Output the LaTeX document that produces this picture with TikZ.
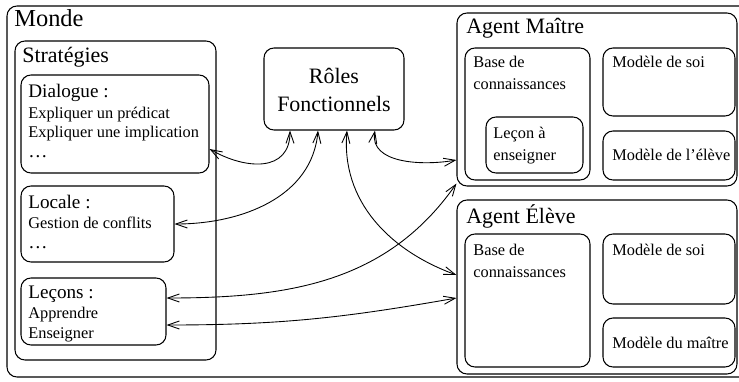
\documentclass[tikz,border=0pt]{standalone}
\usepackage{fontspec}
\setmainfont{Liberation Serif}
\usetikzlibrary{arrows.meta}

\tikzset{
  box/.style={draw, rounded corners=0.2cm, line width=0.6pt, inner sep=0pt},
  txt/.style={anchor=base west, inner sep=0pt, font=\fontsize{9.3}{11}\selectfont},
  sub/.style={anchor=base west, inner sep=0pt, font=\fontsize{10.9}{13}\selectfont},
  ttl/.style={anchor=base west, inner sep=0pt, font=\fontsize{12.5}{15}\selectfont},
  link/.style={{Straight Barb[length=2.3mm,width=1.6mm]}-{Straight Barb[length=2.3mm,width=1.6mm]}, line width=0.5pt},
}

\begin{document}
\begin{tikzpicture}
        \useasboundingbox (0,0) rectangle (14.78,-7.62);

        % boxes
        \node[box, minimum width=15.06cm, minimum height=7.42cm] at (7.67,-3.83) (monde) {};
        \node[box, minimum width=4.02cm, minimum height=6.38cm] at (2.31,-4.01) (strat) {};
        \node[box, minimum width=3.76cm, minimum height=1.96cm] at (2.30,-2.48) (dial) {};
        \node[box, minimum width=3.06cm, minimum height=1.52cm] at (1.95,-4.48) (loc) {};
        \node[box, minimum width=2.90cm, minimum height=1.34cm] at (1.87,-6.23) (lecons) {};
        \node[box, minimum width=2.80cm, minimum height=1.64cm] at (6.68,-1.78) (roles) {};
        \node[box, minimum width=5.60cm, minimum height=3.46cm] at (11.94,-1.99) (maitre) {};
        \node[box, minimum width=2.50cm, minimum height=2.64cm] at (10.55,-2.28) (basem) {};
        \node[box, minimum width=1.94cm, minimum height=1.12cm] at (10.69,-2.90) (lecon) {};
        \node[box, minimum width=2.64cm, minimum height=1.36cm] at (13.38,-1.64) (soim) {};
        \node[box, minimum width=2.64cm, minimum height=0.98cm] at (13.38,-3.11) (modeleve) {};
        \node[box, minimum width=5.60cm, minimum height=3.48cm] at (11.94,-5.74) (eleve) {};
        \node[box, minimum width=2.50cm, minimum height=2.66cm] at (10.55,-6.01) (basee) {};
        \node[box, minimum width=2.64cm, minimum height=1.40cm] at (13.38,-5.38) (soie) {};
        \node[box, minimum width=2.64cm, minimum height=0.98cm] at (13.38,-6.85) (modmaitre) {};

        % texts
        \node[ttl, font=\fontsize{13.9}{16}\selectfont] at (0.28,-0.54) (mondeT) {Monde};
        \node[ttl] at (0.44,-1.24) (stratT) {Stratégies};
        \node[sub] at (0.56,-1.94) (dialT) {Dialogue :};
        \node[txt] at (0.56,-2.36) (dial1) {Expliquer un prédicat};
        \node[txt] at (0.56,-2.74) (dial2) {Expliquer une implication};
        \node[sub] at (0.56,-3.14) (dial3) {\ldots};
        \node[sub] at (0.56,-4.16) (locT) {Locale :};
        \node[txt] at (0.56,-4.56) (loc1) {Gestion de conflits};
        \node[sub] at (0.56,-4.96) (loc2) {\ldots};
        \node[sub] at (0.56,-5.96) (leconsT) {Leçons :};
        \node[txt] at (0.56,-6.36) (lecons1) {Apprendre};
        \node[txt] at (0.56,-6.76) (lecons2) {Enseigner};
        \node[ttl, anchor=base] at (6.68,-1.66) (roles1) {Rôles};
        \node[ttl, anchor=base] at (6.68,-2.22) (roles2) {Fonctionnels};
        \node[ttl] at (9.32,-0.66) (maitreT) {Agent Maître};
        \node[txt] at (9.46,-1.34) (basem1) {Base de};
        \node[txt] at (9.46,-1.78) (basem2) {connaissances};
        \node[txt] at (9.86,-2.76) (lecon1) {Leçon à};
        \node[txt] at (9.86,-3.20) (lecon2) {enseigner};
        \node[txt] at (12.24,-1.34) (soimT) {Modèle de soi};
        \node[txt] at (12.24,-3.20) (modeleveT) {Modèle de l’élève};
        \node[ttl] at (9.32,-4.46) (eleveT) {Agent Élève};
        \node[txt] at (9.46,-5.10) (basee1) {Base de};
        \node[txt] at (9.46,-5.54) (basee2) {connaissances};
        \node[txt] at (12.24,-5.10) (soieT) {Modèle de soi};
        \node[txt] at (12.24,-6.96) (modmaitreT) {Modèle du maître};

        % links
        \draw[link] ([yshift=-0.5cm]dial.east) to[out=-30,in=-90,looseness=1.3] ([xshift=-0.88cm]roles.south);
        \draw[link] (loc.east) to[out=0,in=-95] ([xshift=-0.32cm]roles.south);
        \draw[link] ([xshift=0.26cm]roles.south) to[out=-95,in=160] ([yshift=0.24cm]eleve.west);
        \draw[link] ([xshift=0.82cm]roles.south) to[out=-100,in=190] ([yshift=-1.21cm]maitre.west);
        \draw[link] ([yshift=0.27cm]lecons.east) to[out=0,in=-125] ([yshift=0.06cm]maitre.south west);
        \draw[link] ([yshift=-0.27cm]lecons.east) to[out=0,in=190] ([yshift=-0.22cm]eleve.west);

    \end{tikzpicture}
\end{document}
